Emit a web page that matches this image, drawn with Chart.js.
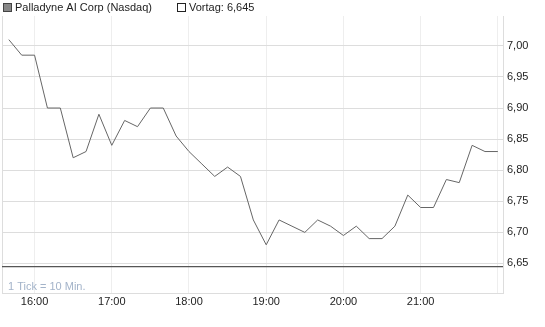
<!DOCTYPE html>
<html>
<head>
<meta charset="utf-8">
<script src="https://cdn.jsdelivr.net/npm/chart.js@4"></script>
<style>
  html, body { margin: 0; padding: 0; background: #fff; }
  #wrap { width: 545px; height: 327px; }
</style>
</head>
<body>
<div id="wrap"><canvas id="chart" width="545" height="327"></canvas></div>
<script>
// --- data (10 minute ticks) ---
const times = ['15:40', '15:50', '16:00', '16:10', '16:20', '16:30', '16:40', '16:50',
  '17:00', '17:10', '17:20', '17:30', '17:40', '17:50', '18:00', '18:10', '18:20',
  '18:30', '18:40', '18:50', '19:00', '19:10', '19:20', '19:30', '19:40', '19:50',
  '20:00', '20:10', '20:20', '20:30', '20:40', '20:50', '21:00', '21:10', '21:20',
  '21:30', '21:40', '21:50', '22:00'];
const prices = [7.01, 6.985, 6.985, 6.90, 6.90, 6.82, 6.83, 6.89, 6.84, 6.88, 6.87,
  6.90, 6.90, 6.855, 6.83, 6.81, 6.79, 6.805, 6.79, 6.72, 6.68, 6.72, 6.71, 6.70,
  6.72, 6.71, 6.695, 6.71, 6.69, 6.69, 6.71, 6.76, 6.74, 6.74, 6.785, 6.78, 6.84,
  6.83, 6.83];
const vortag = 6.645;
const xTickTimes = ['16:00', '17:00', '18:00', '19:00', '20:00', '21:00', '22:00'];
const xTickLabels = ['16:00', '17:00', '18:00', '19:00', '20:00', '21:00', ''];
const yTicks = [6.65, 6.70, 6.75, 6.80, 6.85, 6.90, 6.95, 7.00];

const FONT = '"Liberation Sans", Arial, sans-serif';

// "hh:mm" -> minutes since midnight, so the x axis can be linear
function toMin(t) {
  const p = t.split(':');
  return Number(p[0]) * 60 + Number(p[1]);
}

const xMin = 934.7, xMax = 1324;
const priceData = times.map((t, i) => ({ x: toMin(t), y: prices[i] }));
const vortagData = [{ x: xMin, y: vortag }, { x: xMax, y: vortag }];

// header legend, footnote and left frame line
const extras = {
  id: 'extras',
  beforeDatasetsDraw(chart) {
    const c = chart.ctx, a = chart.chartArea;
    c.save();
    c.strokeStyle = '#dddddd';
    c.lineWidth = 1;
    c.beginPath();
    c.moveTo(a.left + 0.5, a.top);
    c.lineTo(a.left + 0.5, a.bottom);
    c.stroke();
    c.restore();
  },
  afterDraw(chart) {
    const c = chart.ctx, a = chart.chartArea;
    c.save();
    c.font = '11px ' + FONT;
    c.textBaseline = 'middle';
    // series box
    c.fillStyle = '#888888';
    c.fillRect(3, 3, 8, 8);
    c.strokeStyle = '#444444';
    c.lineWidth = 1;
    c.strokeRect(3.5, 3.5, 8, 8);
    c.fillStyle = '#222222';
    c.fillText('Palladyne AI Corp (Nasdaq)', 15, 8);
    // Vortag box
    c.fillStyle = '#ffffff';
    c.fillRect(177, 3, 8, 8);
    c.strokeStyle = '#222222';
    c.strokeRect(177.5, 3.5, 8, 8);
    c.fillStyle = '#222222';
    c.fillText('Vortag: 6,645', 189, 8);
    // footnote
    c.fillStyle = '#a3b3c9';
    c.fillText('1 Tick = 10 Min.', a.left + 6, a.bottom - 6);
    c.restore();
  }
};

new Chart(document.getElementById('chart'), {
  type: 'line',
  data: {
    datasets: [
      {
        label: 'Palladyne AI Corp (Nasdaq)',
        data: priceData,
        borderColor: '#666666',
        borderWidth: 1,
        pointRadius: 0,
        tension: 0,
        fill: false
      },
      {
        label: 'Vortag',
        data: vortagData,
        borderColor: '#555555',
        borderWidth: 1.2,
        pointRadius: 0,
        fill: false
      }
    ]
  },
  options: {
    responsive: false,
    animation: false,
    events: [],
    layout: { padding: { left: 2, top: 16, right: 0, bottom: 0 } },
    plugins: { legend: { display: false }, tooltip: { enabled: false } },
    scales: {
      x: {
        type: 'linear',
        min: xMin,
        max: xMax,
        afterBuildTicks: (s) => { s.ticks = xTickTimes.map(t => ({ value: toMin(t) })); },
        afterFit: (s) => { s.height = 34; },
        ticks: {
          autoSkip: false,
          maxRotation: 0,
          padding: 1,
          color: '#222222',
          font: { family: FONT, size: 11 },
          callback: (v) => {
            const i = xTickTimes.findIndex(t => toMin(t) === v);
            return i >= 0 ? xTickLabels[i] : '';
          }
        },
        grid: { color: '#eeeeee', tickLength: 1 },
        border: { color: '#dddddd' }
      },
      y: {
        position: 'right',
        min: 6.6025,
        max: 7.048,
        afterBuildTicks: (s) => { s.ticks = yTicks.map(v => ({ value: v })); },
        afterFit: (s) => { s.width = 42; },
        ticks: {
          padding: 3,
          color: '#222222',
          font: { family: FONT, size: 11 },
          callback: (v) => v.toFixed(2).replace('.', ',')
        },
        grid: { color: '#dddddd', tickLength: 1 },
        border: { color: '#dddddd' }
      }
    }
  },
  plugins: [extras]
});
</script>
</body>
</html>
